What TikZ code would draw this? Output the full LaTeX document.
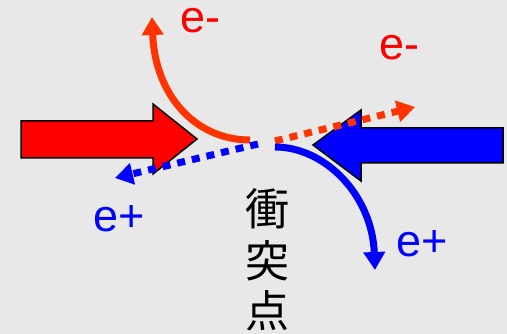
\documentclass[tikz,border=0pt]{standalone}
\usepackage{fontspec}
\setmainfont{Liberation Sans}
\newfontfamily\cjk{Noto Sans CJK JP}
\usetikzlibrary{arrows.meta}
\definecolor{bg}{HTML}{E8E8E8}
\definecolor{eorange}{HTML}{FF3300}
\definecolor{ered}{HTML}{FF0000}
\definecolor{eblue}{HTML}{0000FF}
\tikzset{
  beam/.style={draw=black, line width=1.5pt},
  track/.style={line width=7pt, -{Triangle[length=18pt,width=21pt]}},
  dots/.style={line width=7pt, dash pattern=on 8pt off 7pt, -{Triangle[length=18pt,width=21pt]}},
  lbl/.style={anchor=base west, inner sep=0pt, text height=0.6em, font=\fontsize{45}{45}\selectfont},
  kanji/.style={inner sep=0pt, font=\cjk\fontsize{44}{44}\selectfont},
}
\begin{document}
\begin{tikzpicture}[x=1pt,y=-1pt]
\fill[bg] (0,0) rectangle (507,334);
\useasboundingbox (0,0) rectangle (507,334);
% beams
\filldraw[beam, fill=ered] (21,121) -- (153,121) -- (153,104) -- (197,139) -- (153,174) -- (153,158) -- (21,158) -- cycle;
\filldraw[beam, fill=eblue] (503,128) -- (361,128) -- (361,110) -- (313,145) -- (361,181) -- (361,163) -- (503,163) -- cycle;
% coordinates
\coordinate (oS) at (250,140);
\coordinate (oE) at (152,17);
\coordinate (odS) at (275,141);
\coordinate (odE) at (415,107);
\coordinate (bdS) at (258,144);
\coordinate (bdE) at (115,178);
\coordinate (bS) at (275,147);
\coordinate (bE) at (375,270);
% tracks
\draw[track, draw=eorange] (oS) .. controls (195,140) and (155,95) .. (oE);
\draw[dots, draw=eorange] (odS) -- (odE);
\draw[dots, draw=eblue] (bdS) -- (bdE);
\draw[track, draw=eblue] (bS) .. controls (325,147) and (372,195) .. (bE);
% labels
\node[lbl, text=ered] (l1) at (180,33) {e-};
\node[lbl, text=ered] (l2) at (379,60) {e-};
\node[lbl, text=eblue] (l3) at (93,232) {e+};
\node[lbl, text=eblue] (l4) at (396,257) {e+};
\node[kanji] (k1) at (267,209) {衝};
\node[kanji] (k2) at (267,261) {突};
\node[kanji] (k3) at (267,311) {点};
\end{tikzpicture}
\end{document}
